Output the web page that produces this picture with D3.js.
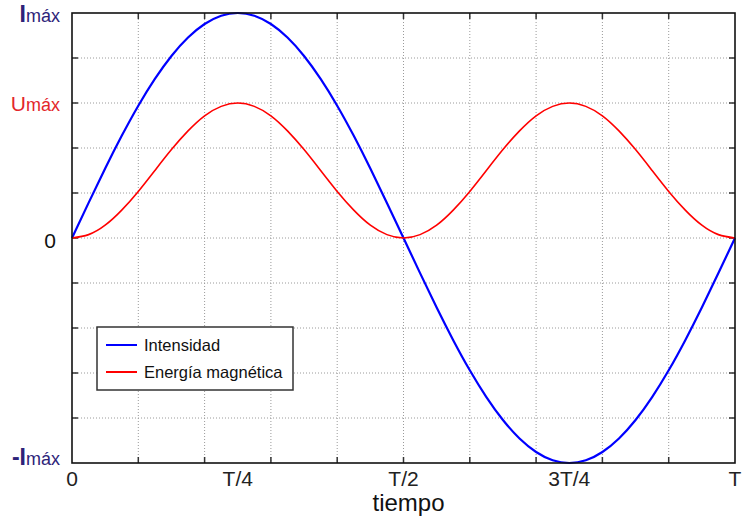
<!DOCTYPE html>
<html>
<head>
<meta charset="utf-8">
<script src="https://cdn.jsdelivr.net/npm/d3@7"></script>
<style>
  body { margin: 0; background: #fff; }
  svg { display: block; font-family: "Liberation Sans", Arial, sans-serif; }
</style>
</head>
<body>
<div id="chart"></div>
<script>
var width = 747,
    height = 519;

var margin = {top: 13, right: 12, bottom: 56, left: 72};

// time, in units of the period T
var tiempo = [0, 0.025, 0.05, 0.075, 0.1, 0.125, 0.15, 0.175, 0.2, 0.225,
              0.25, 0.275, 0.3, 0.325, 0.35, 0.375, 0.4, 0.425, 0.45, 0.475,
              0.5, 0.525, 0.55, 0.575, 0.6, 0.625, 0.65, 0.675, 0.7, 0.725,
              0.75, 0.775, 0.8, 0.825, 0.85, 0.875, 0.9, 0.925, 0.95, 0.975, 1];

// intensity, relative to Imax
var intensidad = [0, 0.156, 0.309, 0.454, 0.588, 0.707, 0.809, 0.891, 0.951, 0.988,
                  1, 0.988, 0.951, 0.891, 0.809, 0.707, 0.588, 0.454, 0.309, 0.156,
                  0, -0.156, -0.309, -0.454, -0.588, -0.707, -0.809, -0.891, -0.951, -0.988,
                  -1, -0.988, -0.951, -0.891, -0.809, -0.707, -0.588, -0.454, -0.309, -0.156, 0];

// magnetic energy, same vertical scale (Umax sits at 0.6)
var energia = [0, 0.015, 0.057, 0.124, 0.207, 0.300, 0.393, 0.476, 0.543, 0.585,
               0.600, 0.585, 0.543, 0.476, 0.393, 0.300, 0.207, 0.124, 0.057, 0.015,
               0, 0.015, 0.057, 0.124, 0.207, 0.300, 0.393, 0.476, 0.543, 0.585,
               0.600, 0.585, 0.543, 0.476, 0.393, 0.300, 0.207, 0.124, 0.057, 0.015, 0];

var xTicks = [0, 0.25, 0.5, 0.75, 1],
    xTickLabels = ["0", "T/4", "T/2", "3T/4", "T"];
var xGrid = [0.1, 0.2, 0.3, 0.4, 0.5, 0.6, 0.7, 0.8, 0.9];

var yTicks = [1, 0.6, 0, -1],
    yTickLabels = ["Imáx", "Umáx", "0", "-Imáx"];
var yGrid = [-0.8, -0.6, -0.4, -0.2, 0, 0.2, 0.4, 0.6, 0.8];

var seriesNames = ["Intensidad", "Energía magnética"],
    seriesColors = ["#0000ff", "#ff0000"];

var x = d3.scaleLinear().domain([0, 1]).range([margin.left, width - margin.right]);
var y = d3.scaleLinear().domain([-1, 1]).range([height - margin.bottom, margin.top]);

var svg = d3.select("#chart").append("svg")
    .attr("width", width)
    .attr("height", height);

// dotted grid
svg.append("g").selectAll("line").data(xGrid).join("line")
    .attr("x1", d => x(d)).attr("x2", d => x(d))
    .attr("y1", y(1)).attr("y2", y(-1))
    .attr("stroke", "#9a9a9a").attr("stroke-width", 1)
    .attr("stroke-dasharray", "1,2");

svg.append("g").selectAll("line").data(yGrid).join("line")
    .attr("x1", x(0)).attr("x2", x(1))
    .attr("y1", d => y(d)).attr("y2", d => y(d))
    .attr("stroke", "#9a9a9a").attr("stroke-width", 1)
    .attr("stroke-dasharray", "1,2");

// inward ticks on all four sides
var tk = 6;
var ticks = svg.append("g").attr("stroke", "#333").attr("stroke-width", 1.5);
ticks.selectAll(".tb").data(xGrid).join("line").attr("class", "tb")
    .attr("x1", d => x(d)).attr("x2", d => x(d))
    .attr("y1", y(-1)).attr("y2", y(-1) - tk);
ticks.selectAll(".tt").data(xGrid).join("line").attr("class", "tt")
    .attr("x1", d => x(d)).attr("x2", d => x(d))
    .attr("y1", y(1)).attr("y2", y(1) + tk);
ticks.selectAll(".tl").data(yGrid).join("line").attr("class", "tl")
    .attr("x1", x(0)).attr("x2", x(0) + tk)
    .attr("y1", d => y(d)).attr("y2", d => y(d));
ticks.selectAll(".tr").data(yGrid).join("line").attr("class", "tr")
    .attr("x1", x(1)).attr("x2", x(1) - tk)
    .attr("y1", d => y(d)).attr("y2", d => y(d));

// curves
var series = [intensidad, energia];
var line = d3.line()
    .x((d, i) => x(tiempo[i]))
    .y(d => y(d))
    .curve(d3.curveNatural);

svg.append("g").selectAll("path").data(series).join("path")
    .attr("d", d => line(d))
    .attr("fill", "none")
    .attr("stroke", (d, i) => seriesColors[i])
    .attr("stroke-width", (d, i) => i == 0 ? 2.2 : 1.6);

// frame
svg.append("rect")
    .attr("x", x(0)).attr("y", y(1))
    .attr("width", x(1) - x(0)).attr("height", y(-1) - y(1))
    .attr("fill", "none").attr("stroke", "#111").attr("stroke-width", 1.6);

// x labels
svg.append("g").selectAll("text").data(xTicks).join("text")
    .attr("x", d => x(d))
    .attr("y", y(-1) + 23)
    .attr("text-anchor", "middle")
    .attr("font-size", 21)
    .attr("fill", "#222")
    .text((d, i) => xTickLabels[i]);

svg.append("text")
    .attr("x", x(0.5) + 5)
    .attr("y", y(-1) + 48)
    .attr("text-anchor", "middle")
    .attr("font-size", 24)
    .attr("fill", "#111")
    .text("tiempo");

// y labels: big initial letter + small "máx"
function labelColor(s) {
    if (s.indexOf("I") >= 0) return "#2d2379";
    if (s.indexOf("U") >= 0) return "#e3262b";
    return "#111";
}
var yOffsets = [9, 8, 10, 2];
var yl = svg.append("g").selectAll("text").data(yTicks).join("text")
    .attr("x", (d, i) => yTickLabels[i] == "0" ? x(0) - 16 : x(0) - 12)
    .attr("y", (d, i) => y(d) + yOffsets[i])
    .attr("text-anchor", "end")
    .attr("fill", (d, i) => labelColor(yTickLabels[i]));

yl.each(function(d, i) {
    var s = yTickLabels[i],
        m = s.match(/^(-?[A-Z0-9])(.*)$/),
        t = d3.select(this);
    var isI = m[1].indexOf("I") >= 0;
    t.append("tspan")
        .attr("font-size", isI ? 23 : 21)
        .attr("font-weight", isI ? "bold" : "normal")
        .text(m[1]);
    if (m[2]) {
        t.append("tspan")
            .attr("font-size", 18)
            .text(m[2]);
    }
});

// legend
var lg = svg.append("g").attr("transform", "translate(97,327)");
lg.append("rect")
    .attr("width", 196).attr("height", 63)
    .attr("fill", "#fff").attr("stroke", "#333").attr("stroke-width", 1.5);
var items = lg.selectAll(".item").data(seriesNames).join("g")
    .attr("class", "item")
    .attr("transform", (d, i) => "translate(0," + (18 + i * 27) + ")");
items.append("line")
    .attr("x1", 9).attr("x2", 40)
    .attr("stroke", (d, i) => seriesColors[i])
    .attr("stroke-width", 2);
items.append("text")
    .attr("x", 47).attr("y", 6)
    .attr("font-size", 16.5)
    .attr("fill", "#111")
    .text(d => d);
</script>
</body>
</html>
